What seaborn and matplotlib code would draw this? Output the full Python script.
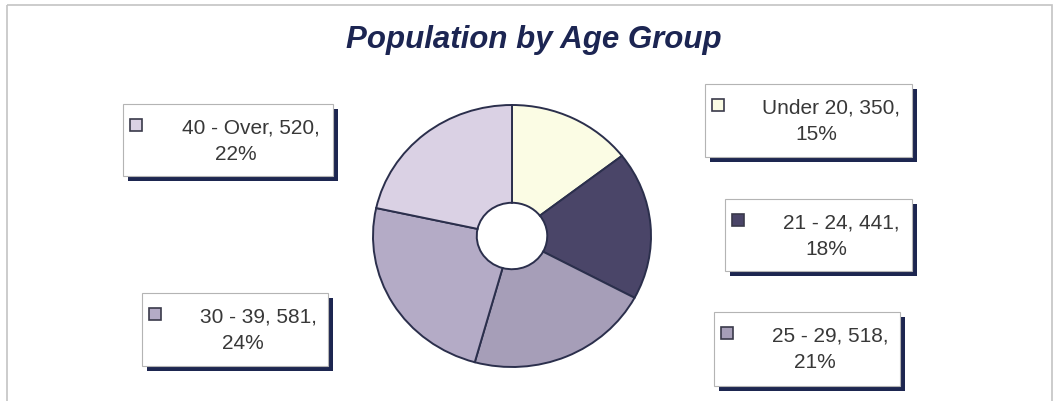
import matplotlib
matplotlib.use("Agg")
import matplotlib.pyplot as plt
from matplotlib.patches import Rectangle
import seaborn as sns

# Chart data
age_groups = ["Under 20", "21 - 24", "25 - 29", "30 - 39", "40 - Over"]
population = [350, 441, 518, 581, 520]
slice_colors = ["#fbfce4", "#4a4568", "#a69eb8", "#b4abc6", "#dad1e4"]

# Label box layout in pixels (left, top, width, height)
box_layout = [
    (705, 85, 207, 73),
    (725, 200, 187, 72),
    (714, 313, 186, 74),
    (142, 294, 186, 73),
    (123, 105, 210, 72),
]

sns.set_theme(style="white")
plt.rcParams["font.family"] = ["Liberation Sans", "DejaVu Sans"]

W, H = 1057, 402
fig = plt.figure(figsize=(W / 100, H / 100), dpi=100)
fig.patch.set_facecolor("white")

# background axes in pixel coords
bg = fig.add_axes([0, 0, 1, 1])
bg.set_xlim(0, W)
bg.set_ylim(H, 0)
bg.axis("off")

# chart frame
bg.add_patch(Rectangle((7, 6), 1045, 410, fill=False, edgecolor="#c4c4c4", lw=1.2))

# title
bg.text(534, 48, "Population by Age Group", ha="center", va="baseline",
        fontsize=22.5, fontweight="bold", fontstyle="italic", color="#1c2552")

# pie (doughnut) axes, slightly elliptical like the reference
cx, cy, rx, ry = 512, 237, 139, 131
pad = 1.05
pie_ax = fig.add_axes([(cx - rx * pad) / W, (H - cy - ry * pad) / H,
                       2 * rx * pad / W, 2 * ry * pad / H])
pie_ax.pie(
    population,
    colors=sns.color_palette(slice_colors),
    startangle=90,
    counterclock=False,
    wedgeprops=dict(width=1 - 35 / 138, edgecolor="#2b2f4c", linewidth=1.4),
)
pie_ax.set_aspect("auto")
pie_ax.set_xlim(-pad, pad)
pie_ax.set_ylim(-pad, pad)
pie_ax.axis("off")

# data labels with legend key
total = sum(population)
for name, val, col, (bx, by, bw, bh) in zip(age_groups, population, slice_colors, box_layout):
    pct = round(val / total * 100)
    bg.add_patch(Rectangle((bx + 5, by + 5), bw, bh, facecolor="#1d2650", edgecolor="none", zorder=2))
    bg.add_patch(Rectangle((bx, by), bw, bh, facecolor="white", edgecolor="#b4b4b4", lw=0.8, zorder=3))
    bg.add_patch(Rectangle((bx + 7, by + 15), 12, 12, facecolor=col, edgecolor="#3a3a4a", lw=1.2, zorder=4))
    mid = bx + bw / 2
    bg.text(mid + 23, by + 29, f"{name}, {val},", ha="center", va="baseline",
            fontsize=15, color="#383838", zorder=5)
    bg.text(mid + 8, by + 55, f"{pct}%", ha="center", va="baseline",
            fontsize=15, color="#383838", zorder=5)

fig.savefig("out.png", dpi=100, facecolor="white")
